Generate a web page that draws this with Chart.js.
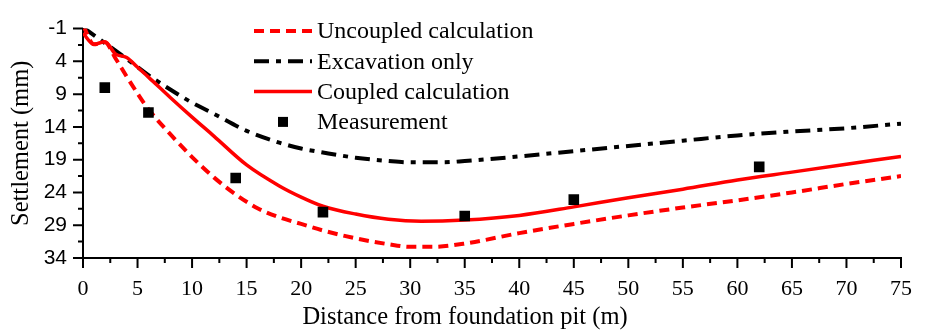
<!DOCTYPE html>
<html>
<head>
<meta charset="utf-8">
<script src="https://cdn.jsdelivr.net/npm/chart.js@4.4.1/dist/chart.umd.min.js"></script>
<style>
  html, body { margin: 0; padding: 0; background: #fff; }
  #wrap { width: 930px; height: 334px; }
</style>
</head>
<body>
<div id="wrap"><canvas id="settlementChart"></canvas></div>
<script>
// Tick labels
const xTicks = [0, 5, 10, 15, 20, 25, 30, 35, 40, 45, 50, 55, 60, 65, 70, 75];
const yTicks = [-1, 4, 9, 14, 19, 24, 29, 34];

// Uncoupled calculation (red dashed)
const uncoupledX = [0, 1, 2, 3, 4, 5, 6, 8, 10, 12, 14, 16, 18, 20, 22, 25, 28, 30, 32, 35, 40, 45, 50, 55, 60, 65, 70, 75];
const uncoupledY = [-1.5, 1.4, 1.1, 3.6, 6.3, 8.9, 11.3, 15.1, 18.6, 21.7, 24.3, 26.4, 27.8, 28.8, 29.8, 31.0, 31.9, 32.3, 32.3, 31.8, 30.2, 28.8, 27.5, 26.3, 25.2, 24.0, 22.7, 21.5];

// Excavation only (black dash-dot)
const excavationX = [0, 2, 4, 6, 8, 10, 12, 15, 18, 20, 22, 25, 28, 30, 33, 35, 40, 45, 50, 55, 60, 65, 70, 75];
const excavationY = [-1.2, 1.2, 3.6, 6.1, 8.3, 10.3, 12.0, 14.6, 16.4, 17.3, 17.9, 18.7, 19.2, 19.4, 19.4, 19.2, 18.5, 17.7, 16.9, 16.1, 15.3, 14.7, 14.2, 13.5];

// Coupled calculation (red solid)
const coupledX = [0, 1, 2, 3, 4, 5, 6, 8, 10, 12, 15, 18, 20, 22, 25, 28, 31, 35, 40, 45, 50, 55, 60, 65, 70, 75];
const coupledY = [-0.3, 1.4, 1.0, 2.9, 3.4, 4.9, 6.4, 9.5, 12.5, 15.4, 19.8, 23.0, 24.7, 26.1, 27.3, 28.1, 28.4, 28.2, 27.5, 26.2, 24.8, 23.5, 22.1, 20.9, 19.7, 18.5];

// Measurement (black squares)
const measuredX = [2, 6, 14, 22, 35, 45, 62];
const measuredY = [8.0, 11.8, 21.8, 27.0, 27.6, 25.1, 20.1];

const SERIF = "'Liberation Serif', 'Times New Roman', serif";
const SANS = "'Liberation Sans', Arial, sans-serif";

function toPoints(xs, ys) {
  return xs.map((x, i) => ({ x: x, y: ys[i] }));
}

// Outward major and minor tick marks on both axes
const axisTicks = {
  id: "axisTicks",
  afterDraw(chart) {
    const { ctx, chartArea, scales } = chart;
    const xs = scales.x;
    const ys = scales.y;
    ctx.save();
    ctx.strokeStyle = "#000";
    ctx.lineWidth = 2;
    ctx.beginPath();
    xTicks.forEach((v, i) => {
      const px = xs.getPixelForValue(v);
      ctx.moveTo(px, chartArea.bottom);
      ctx.lineTo(px, chartArea.bottom + 10);
      if (i < xTicks.length - 1) {
        const mx = xs.getPixelForValue((v + xTicks[i + 1]) / 2);
        ctx.moveTo(mx, chartArea.bottom);
        ctx.lineTo(mx, chartArea.bottom + 5);
      }
    });
    yTicks.forEach((v, i) => {
      const py = ys.getPixelForValue(v);
      ctx.moveTo(chartArea.left, py);
      ctx.lineTo(chartArea.left - 10, py);
      if (i < yTicks.length - 1) {
        const my = ys.getPixelForValue((v + yTicks[i + 1]) / 2);
        ctx.moveTo(chartArea.left, my);
        ctx.lineTo(chartArea.left - 5, my);
      }
    });
    ctx.stroke();

    // x axis title sits a little left of the axis centre in the original
    ctx.fillStyle = "#000";
    ctx.font = "24.5px " + SERIF;
    ctx.textAlign = "center";
    ctx.textBaseline = "middle";
    ctx.fillText("Distance from foundation pit (m)", 465, 318);
    ctx.restore();
  },
};

// Legend drawn inside the plot area, upper middle
const insideLegend = {
  id: "insideLegend",
  afterDatasetsDraw(chart) {
    const { ctx } = chart;
    const left = 254;
    const lineLen = 58;
    const top = 31;
    const rowGap = 30.3;
    ctx.save();
    ctx.font = "24px " + SERIF;
    ctx.textBaseline = "middle";
    ctx.textAlign = "left";
    chart.data.datasets.forEach((ds, i) => {
      const y = top + i * rowGap;
      if (ds.showLine === false) {
        const s = 10;
        ctx.fillStyle = ds.backgroundColor;
        ctx.fillRect(left + lineLen / 2 - s / 2, y - s / 2, s, s);
      } else {
        ctx.strokeStyle = ds.borderColor;
        ctx.lineWidth = ds.borderWidth;
        ctx.setLineDash(ds.borderDash || []);
        ctx.beginPath();
        ctx.moveTo(left, y);
        ctx.lineTo(left + lineLen, y);
        ctx.stroke();
        ctx.setLineDash([]);
      }
      ctx.fillStyle = "#000";
      ctx.fillText(ds.label, left + lineLen + 5, y + 1);
    });
    ctx.restore();
  },
};

const ctx = document.getElementById("settlementChart");

new Chart(ctx, {
  type: "line",
  data: {
    datasets: [
      {
        label: "Uncoupled calculation",
        data: toPoints(uncoupledX, uncoupledY),
        borderColor: "#ff0000",
        borderWidth: 4,
        borderDash: [10, 6],
        pointRadius: 0,
        cubicInterpolationMode: "monotone",
        order: 3,
      },
      {
        label: "Excavation only",
        data: toPoints(excavationX, excavationY),
        borderColor: "#000000",
        borderWidth: 4,
        borderDash: [15, 7, 5, 7],
        pointRadius: 0,
        cubicInterpolationMode: "monotone",
        order: 4,
      },
      {
        label: "Coupled calculation",
        data: toPoints(coupledX, coupledY),
        borderColor: "#ff0000",
        borderWidth: 3.5,
        pointRadius: 0,
        cubicInterpolationMode: "monotone",
        order: 2,
      },
      {
        label: "Measurement",
        data: toPoints(measuredX, measuredY),
        showLine: false,
        pointStyle: "rect",
        pointRadius: 7.5,
        backgroundColor: "#000000",
        borderColor: "#000000",
        borderWidth: 0,
        order: 1,
      },
    ],
  },
  options: {
    responsive: true,
    maintainAspectRatio: false,
    animation: false,
    events: [],
    layout: {
      padding: { top: 18, right: 22, left: 0, bottom: 0 },
    },
    plugins: {
      legend: { display: false },
      tooltip: { enabled: false },
    },
    scales: {
      x: {
        type: "linear",
        min: 0,
        max: 75,
        afterFit: (scale) => {
          scale.height = 76;
        },
        afterBuildTicks: (scale) => {
          scale.ticks = xTicks.map((v) => ({ value: v }));
        },
        grid: {
          display: true,
          drawOnChartArea: false,
          drawTicks: false,
        },
        border: { display: true, color: "#000", width: 2 },
        ticks: {
          color: "#000",
          padding: 18,
          maxRotation: 0,
          autoSkip: false,
          font: { family: SERIF, size: 22 },
        },
      },
      y: {
        type: "linear",
        reverse: true,
        min: -1,
        max: 34,
        afterFit: (scale) => {
          scale.width = 83;
        },
        afterBuildTicks: (scale) => {
          scale.ticks = yTicks.map((v) => ({ value: v }));
        },
        grid: {
          display: true,
          drawOnChartArea: false,
          drawTicks: false,
        },
        border: { display: true, color: "#000", width: 2 },
        ticks: {
          color: "#000",
          padding: 16,
          autoSkip: false,
          font: { family: SANS, size: 21 },
        },
        title: {
          display: true,
          text: "Settlement (mm)",
          color: "#000",
          font: { family: SERIF, size: 24.5 },
          padding: { top: 7, bottom: 0 },
        },
      },
    },
  },
  plugins: [axisTicks, insideLegend],
});
</script>
</body>
</html>
